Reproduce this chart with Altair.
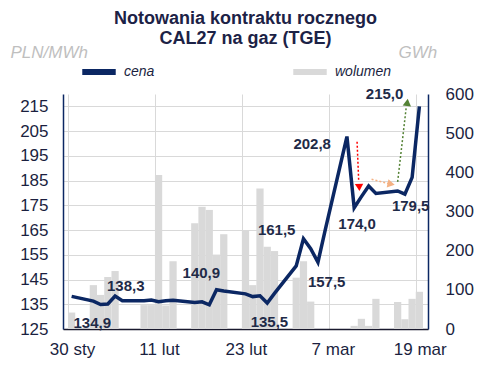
import altair as alt
import pandas as pd

# ---------------- data ----------------
dates = ["2026-01-30",
         "2026-02-02", "2026-02-03", "2026-02-04", "2026-02-05", "2026-02-06",
         "2026-02-09", "2026-02-10", "2026-02-11", "2026-02-12", "2026-02-13",
         "2026-02-16", "2026-02-17", "2026-02-18", "2026-02-19", "2026-02-20",
         "2026-02-23", "2026-02-24", "2026-02-25", "2026-02-26", "2026-02-27",
         "2026-03-02", "2026-03-03", "2026-03-04", "2026-03-05", "2026-03-06",
         "2026-03-09", "2026-03-10", "2026-03-11", "2026-03-12", "2026-03-13",
         "2026-03-16", "2026-03-17", "2026-03-18", "2026-03-19"]
price = [138.2,
         136.3, 134.9, 135.1, 138.3, 136.4,
         136.4, 136.7, 136.0, 136.4, 136.6,
         135.7, 136.0, 134.8, 140.9, 140.4,
         139.2, 138.1, 138.4, 135.5, 139.4,
         150.5, 161.5, 157.5, 152.0, 165.0,
         202.8, 174.0, 178.5, 182.8, 179.8,
         180.8, 179.5, 186.3, 215.0]
volume = [42,
          112, 87, 133, 148, 0,
          61, 61, 393, 60, 173,
          270, 312, 304, 190, 242,
          252, 112, 359, 210, 199,
          131, 173, 70, 0, 0,
          0, 8, 26, 8, 77,
          69, 25, 77, 95]

tick_days = [0, 12, 24, 36, 48]
tick_labels = ["30 sty", "11 lut", "23 lut", "7 mar", "19 mar"]

label_text = ["134,9", "138,3", "140,9", "135,5", "161,5", "157,5", "202,8", "174,0", "179,5", "215,0"]
label_day = [3.35, 7.97, 18.4, 27.8, 28.8, 35.7, 33.7, 39.9, 47.3, 43.7]
label_price = [127.6, 142.4, 147.8, 127.8, 165.2, 143.8, 199.6, 167.4, 174.7, 219.8]

arrow_color = ["#ff0000", "#f4b183", "#548235"]
arrow_x = [39.9, 41.9, 45.5]
arrow_y = [200.7, 185.5, 184.5]
arrow_x2 = [40.13, 44.4, 46.7]
arrow_y2 = [184.5, 183.7, 215.0]
head_x = [40.2, 44.6, 46.83]
head_y = [182.2, 183.6, 216.6]
head_shape = ["triangle-down", "triangle-right", "triangle-up"]
head_angle = [357, 12, 7]

# ---------------- frames ----------------
start = pd.Timestamp("2026-01-30")
day = [(pd.Timestamp(d) - start).days for d in dates]
df = pd.DataFrame({"day": day, "price": price, "volume": volume})
df["mid"] = df["day"] + 0.5
df["end"] = df["day"] + 1
df["cena"] = "cena"
df["wol"] = "wolumen"

lab = pd.DataFrame({"t": label_text, "x": label_day, "y": label_price})
arr = pd.DataFrame({"c": arrow_color, "x": arrow_x, "y": arrow_y, "x2": arrow_x2, "y2": arrow_y2,
                    "hx": head_x, "hy": head_y, "shape": head_shape, "ang": head_angle})

NAVY = "#0b2763"
GRAY = "#d9d9d9"
TXT = "#1b1f3f"
FONT = "Liberation Sans"

label_expr = " : ".join(
    f"datum.value == {d} ? '{t}'" for d, t in zip(tick_days, tick_labels)) + " : ''"

xscale = alt.Scale(domain=[0, 49], nice=False, zero=False)
xaxis = alt.Axis(values=tick_days, labelExpr=label_expr, title=None, grid=True,
                 gridColor=GRAY, ticks=False, domainColor="#1a1a2e", domainWidth=1.5,
                 labelOffset=4, labelPadding=12, labelFontSize=17, labelColor=TXT,
                 labelFont=FONT, labelOverlap=False)

yl_scale = alt.Scale(domain=[125, 220], nice=False, zero=False)
yl_axis = alt.Axis(values=list(range(125, 216, 10)), title="PLN/MWh", grid=True,
                   gridColor=GRAY, ticks=False, domainColor=NAVY, domainWidth=1.5,
                   labelPadding=15, labelFontSize=17, labelColor=TXT, labelFont=FONT,
                   labelOverlap=False, labelBound=False,
                   titleAngle=0, titleX=-53, titleY=-42, titleAlign="left",
                   titleBaseline="middle", titleFontStyle="italic", titleFontWeight="normal",
                   titleColor="#bfbfbf", titleFontSize=17, titleFont=FONT)

yr_scale = alt.Scale(domain=[0, 600], nice=False)
yr_axis = alt.Axis(values=list(range(0, 601, 100)), title="GWh", orient="right", grid=False,
                   ticks=False, domainColor=NAVY, domainWidth=1.5,
                   labelPadding=17, labelFontSize=17, labelColor=TXT, labelFont=FONT,
                   labelOverlap=False,
                   titleAngle=0, titleX=-30, titleY=-42, titleAlign="left",
                   titleBaseline="middle", titleFontStyle="italic", titleFontWeight="normal",
                   titleColor="#bfbfbf", titleFontSize=17, titleFont=FONT)

color_scale = alt.Scale(domain=["cena", "wolumen"], range=[NAVY, GRAY])
legend = alt.Legend(title=None, orient="none", legendX=16, legendY=-42, direction="horizontal",
                    symbolType="stroke", symbolStrokeWidth=6, symbolSize=1120,
                    labelFontSize=14, labelFontStyle="italic", labelColor=TXT, labelFont=FONT,
                    columnPadding=126, labelOffset=5)

bars = alt.Chart(df).mark_bar(color=GRAY, orient="vertical").encode(
    x=alt.X("day:Q", scale=xscale, axis=xaxis),
    x2="end:Q",
    y=alt.Y("volume:Q", scale=yr_scale, axis=yr_axis),
    y2=alt.datum(0),
    fill=alt.Fill("wol:N", scale=color_scale, legend=legend),
)

line = alt.Chart(df).mark_line(strokeWidth=3.5, strokeJoin="miter").encode(
    x=alt.X("mid:Q", scale=xscale, axis=xaxis),
    y=alt.Y("price:Q", scale=yl_scale, axis=yl_axis),
    stroke=alt.Stroke("cena:N", scale=color_scale, legend=legend),
)

texts = alt.Chart(lab).mark_text(fontSize=15, fontWeight="bold", color="#1f2b48",
                                 font=FONT, baseline="middle", align="center").encode(
    x=alt.X("x:Q", scale=xscale, axis=xaxis),
    y=alt.Y("y:Q", scale=yl_scale, axis=yl_axis),
    text="t:N",
)

rules = alt.Chart(arr).mark_rule(strokeDash=[2, 2], strokeWidth=1.5).encode(
    x=alt.X("x:Q", scale=xscale, axis=xaxis), y=alt.Y("y:Q", scale=yl_scale, axis=yl_axis),
    x2="x2:Q", y2="y2:Q",
    color=alt.Color("c:N", scale=None),
)

heads = alt.Chart(arr).mark_point(filled=True, size=70, opacity=1).encode(
    x=alt.X("hx:Q", scale=xscale, axis=xaxis), y=alt.Y("hy:Q", scale=yl_scale, axis=yl_axis),
    shape=alt.Shape("shape:N", scale=None),
    angle=alt.Angle("ang:Q", scale=None),
    color=alt.Color("c:N", scale=None),
)

left = alt.layer(line, texts, rules, heads)
chart = alt.layer(bars, left).resolve_scale(y="independent", fill="shared", stroke="shared").properties(
    width=365, height=235,
    autosize=alt.AutoSizeParams(type="none"),
    padding={"left": 55, "top": 86, "right": 57, "bottom": 34},
    title=alt.TitleParams(["Notowania kontraktu rocznego", "CAL27 na gaz (TGE)"],
                          anchor="middle", fontSize=18, fontWeight="bold", color="#1c2246",
                          font=FONT, lineHeight=20, offset=-5),
).configure_view(stroke=None).configure_axis(labelFont=FONT)

chart.save("out.html", embed_options={"renderer": "svg", "actions": False})
